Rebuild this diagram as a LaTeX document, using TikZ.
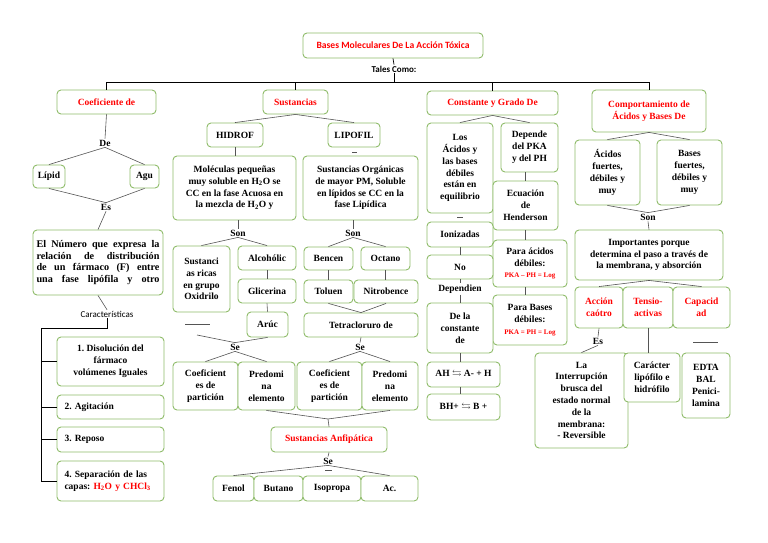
\documentclass[tikz,border=0pt]{standalone}
\usepackage{fontspec}
\usepackage{amssymb}
\setmainfont{Liberation Serif}
\newfontfamily\calibri{Carlito}

\begin{document}
\begin{tikzpicture}[x=1pt, y=-1pt,
    box/.style={draw=borderColour, line width=0.9pt, rounded corners=4pt, fill=white,
        align=center, inner sep=1pt, font=\fontsize{9.5}{11.8}\selectfont\bfseries\frenchspacing},
    head/.style={box, text=titleRed},
    sz/.style 2 args={minimum width=#1pt, minimum height=#2pt},
    lbl/.style={inner sep=1pt, font=\fontsize{9.5}{11}\selectfont\bfseries},
    conn/.style={draw=lineColour, line width=0.6pt},
    barLine/.style={draw=black, line width=0.7pt}]

    \definecolor{borderColour}{HTML}{8FBC6A}
    \definecolor{lineColour}{HTML}{555555}
    \definecolor{titleRed}{HTML}{FF0000}

    \fill[white] (0,0) rectangle (768,543);
    \useasboundingbox (0,0) rectangle (768,543);

    % Title and the four branches
    \node[box, sz={180}{25}, text=titleRed, font=\calibri\fontsize{9.6}{11}\selectfont\bfseries] (title) at (393,45.5) {Bases Moleculares De La Acción Tóxica};
    \node[inner sep=1pt, font=\calibri\fontsize{9}{10}\selectfont\bfseries] (tales) at (394,69) {Tales Como:};

    \node[head, sz={99}{24}] (coef) at (106.5,102) {Coeficiente de};
    \node[head, sz={65}{24}] (sust) at (295.5,102) {Sustancias};
    \node[head, sz={131}{24}] (const) at (492.5,103) {Constante y Grado De};
    \node[head, sz={114}{42}] (comp) at (649,111) {Comportamiento de\\Ácidos y Bases De};

    \coordinate (barL) at (106.5,82);

    \draw[barLine] (title.south) -- (tales.north);
    \draw[barLine] (tales.south) -- (tales.south |- barL);
    \draw[barLine] (coef.north) -- (coef.north |- barL) -- (comp.north |- barL) -- (comp.north);
    \draw[barLine] (sust.north) -- (sust.north |- barL);
    \draw[barLine] (const.north) -- (const.north |- barL);

    % Column 1: Coeficiente de particion
    \node[lbl] (de) at (105,143) {De};
    \node[box, sz={32}{23}] (lipid) at (49,176.5) {Lípid};
    \node[box, sz={29}{23}] (agu) at (144.5,176.5) {Agu};
    \node[lbl] (es) at (106,207) {Es};
    \node[box, sz={130}{65}, text width=123pt, align=justify, font=\fontsize{10.2}{11.8}\selectfont\bfseries] (numero) at (98,262.5)
        {\parfillskip=0pt El Número que expresa la\linebreak relación de distribución\linebreak de un fármaco (F) entre\linebreak una fase lipófila y otro\par};
    \node[inner sep=1pt, font=\calibri\fontsize{9}{10}\selectfont] (caractLbl) at (107,314) {Características};
    \node[box, sz={107}{49}] (car1) at (110.5,361.5) {1. Disolución del\\fármaco\\volúmenes Iguales};
    \node[box, sz={107}{24}, text width=92pt, align=left] (car2) at (110.5,407) {2. Agitación};
    \node[box, sz={107}{25}, text width=92pt, align=left] (car3) at (110.5,439.5) {3. Reposo};
    \node[box, sz={107}{40}, text width=92pt, align=left] (car4) at (110.5,481)
        {4. Separación de las\\capas: \textcolor{titleRed}{H\textsubscript{2}O y CHCl\textsubscript{3}}};

    \draw[conn] (coef.south) -- (de.north);
    \draw[conn] (de.south) -- (lipid.north);
    \draw[conn] (de.south) -- (agu.north);
    \draw[conn] (lipid.south) -- (es.north);
    \draw[conn] (agu.south) -- (es.north);
    \draw[conn] (es.south) -- (numero.north);
    \draw[conn] (numero.south) -- (caractLbl.north);

    \coordinate (spine) at (41,328);
    \draw[barLine] (caractLbl.south) |- (spine) -- (spine |- car4.west) -- (car4.west);
    \foreach \c in {car1,car2,car3}
        \draw[barLine] (\c.west) -- (\c.west -| spine);

    % Column 2: Sustancias
    \node[box, sz={56}{24}] (hidrof) at (235,135) {HIDROF};
    \node[box, sz={52}{24}] (lipofil) at (354,135) {LIPOFIL};
    \node[box, sz={123}{64}] (molec) at (234.5,188)
        {Moléculas pequeñas\\muy soluble en H\textsubscript{2}O se\\CC en la fase Acuosa en\\la mezcla de H\textsubscript{2}O y};
    \node[box, sz={115}{64}] (sustOrg) at (360.5,188)
        {Sustancias Orgánicas\\de mayor PM, Soluble\\en lípidos se CC en la\\fase Lipídica};
    \node[lbl] (son1) at (238,233) {Son};
    \node[lbl] (son2) at (353,233) {Son};
    \node[box, sz={57}{66}] (ricas) at (201.5,279) {Sustanci\\as ricas\\en grupo\\Oxidrilo};
    \node[box, sz={58}{24}] (alcohol) at (267,258) {Alcohólic};
    \node[box, sz={58}{24}] (glicer) at (267,291) {Glicerina};
    \node[box, sz={41}{25}] (aruc) at (267.5,324.5) {Arúc};
    \node[box, sz={49}{23}] (benc) at (328.5,258.5) {Bencen};
    \node[box, sz={49}{23}] (octano) at (385.5,258.5) {Octano};
    \node[box, sz={49}{23}] (toluen) at (328.5,291.5) {Toluen};
    \node[box, sz={64}{23}] (nitro) at (386,291.5) {Nitrobence};
    \node[box, sz={114}{24}] (tetra) at (361,325) {Tetracloruro de};
    \node[lbl] (se1) at (235,347) {Se};
    \node[lbl] (se2) at (360,347) {Se};
    \node[box, sz={65}{48}] (coefL) at (205.5,386) {Coeficient\\es de\\partición};
    \node[box, sz={57}{48}] (predL) at (266.5,386) {Predomi\\na\\elemento};
    \node[box, sz={65}{48}] (coefR) at (329.5,386) {Coeficient\\es de\\partición};
    \node[box, sz={56}{48}] (predR) at (390,386) {Predomi\\na\\elemento};
    \node[head, sz={116}{25}] (anfi) at (329,439.5) {Sustancias Anfipática};
    \node[lbl] (se3) at (328,461) {Se};
    \node[box, sz={41}{25}] (fenol) at (233.5,488.5) {Fenol};
    \node[box, sz={49}{25}] (butano) at (278.5,488.5) {Butano};
    \node[box, sz={58}{25}] (isoprop) at (332,488.5) {Isopropa};
    \node[box, sz={57}{25}] (acet) at (389.5,488.5) {Ac.};

    \draw[conn] (sust.south) -- (hidrof.north);
    \draw[conn] (sust.south) -- (lipofil.north);
    \draw[conn] (hidrof.south) -- (hidrof.south |- molec.north);
    \draw[conn] (son1.north |- molec.south) -- (son1.north);
    \draw[conn] (son2.north |- sustOrg.south) -- (son2.north);
    \draw[conn] (son1.south) -- (ricas.north);
    \draw[conn] (son1.south) -- (alcohol.north);
    \draw[conn] (alcohol.south) -- (glicer.north);
    \draw[conn] (glicer.south) -- (aruc.north);
    \draw[conn] (son2.south) -- (benc.north);
    \draw[conn] (son2.south) -- (octano.north);
    \draw[conn] (benc.south) -- (toluen.north);
    \draw[conn] (octano.south) -- (octano.south |- nitro.north);
    \draw[conn] (toluen.south) -- (tetra.north);
    \draw[conn] (nitro.south) -- (tetra.north);
    \draw[conn] (tetra.south) -- (se2.north);
    \coordinate (seLeft) at (197,335);
    \draw[conn] (seLeft) -- (se1.north);
    \draw[conn] (aruc.south) -- (se1.north);
    \draw[conn] (se1.south) -- (coefL.north);
    \draw[conn] (se1.south) -- (predL.north);
    \draw[conn] (se2.south) -- (coefR.north);
    \draw[conn] (se2.south) -- (predR.north);
    \coordinate (anfiTop) at (328,419);
    \draw[conn] (predL.south) -- (anfiTop);
    \draw[conn] (predR.south) -- (anfiTop) -- (anfi.north);
    \draw[conn] (anfi.south) -- (se3.north);
    \draw[conn] (se3.south) -- (fenol.north);
    \draw[conn] (se3.south) -- (acet.north);

    % Column 3: Constante y grado de ionizacion
    \node[box, sz={66}{90}] (los) at (460,168) {Los\\Ácidos y\\las bases\\débiles\\están en\\equilibrio};
    \node[box, sz={57}{49}] (depende) at (529.5,147.5) {Depende\\del PKA\\y del PH};
    \node[box, sz={65}{49}] (ecuac) at (525.5,205.5) {Ecuación\\de\\Henderson};
    \node[box, sz={66}{25}] (ioniz) at (460,234.5) {Ionizadas};
    \node[box, sz={74}{47}] (paraAc) at (530,263.5)
        {Para ácidos\\débiles:\\\textcolor{titleRed}{\fontsize{7}{8}\selectfont PKA – PH = Log}};
    \node[box, sz={74}{50}] (paraBa) at (530,320)
        {Para Bases\\débiles:\\\textcolor{titleRed}{\fontsize{7}{8}\selectfont PKA = PH = Log}};
    \node[box, sz={66}{24}] (no) at (460,267) {No};
    \node[lbl] (dependien) at (460,289) {Dependien};
    \node[box, sz={66}{50}] (deLa) at (460,328) {De la\\constante\\de};
    \node[box, sz={73}{25}] (ah) at (463.5,374.5) {AH $\leftrightarrows$ A- + H};
    \node[box, sz={73}{26}] (bh) at (463.5,407) {BH+ $\leftrightarrows$ B +};

    \draw[conn] (const.south) -- (los.north);
    \draw[conn] (const.south) -- (depende.north);
    \draw[conn] (ecuac.north) -- (ecuac.north |- depende.south);
    \draw[conn] (ecuac.south) -- (ecuac.south |- paraAc.north);
    \draw[conn] (ecuac.south |- paraAc.south) -- (ecuac.south |- paraBa.north);
    \draw[conn] (ioniz.south) -- (no.north);
    \draw[conn] (no.south) -- (dependien.north);
    \draw[conn] (dependien.south) -- (deLa.north);
    \draw[conn] (deLa.south) -- (deLa.south |- ah.north);
    \draw[conn] (deLa.south |- ah.south) -- (deLa.south |- bh.north);

    % Column 4: Comportamiento de acidos y bases
    \node[box, sz={65}{65}] (acidos) at (607.5,172.5) {Ácidos\\fuertes,\\débiles y\\muy};
    \node[box, sz={65}{65}] (bases) at (689.5,172.5) {Bases\\fuertes,\\débiles y\\muy};
    \node[lbl] (son3) at (648,217) {Son};
    \node[box, sz={148}{50}] (import) at (649,255) {Importantes porque\\determina el paso a través de\\la membrana, y absorción};
    \node[head, sz={48}{41}] (accion) at (599,307.5) {Acción\\caótro};
    \node[head, sz={50}{41}] (tensio) at (648,307.5) {Tensio-\\activas};
    \node[head, sz={57}{41}] (capac) at (701.5,307.5) {Capacid\\ad};
    \node[lbl] (es2) at (598,341) {Es};
    \node[box, sz={93}{95}] (laInt) at (581.5,400.5) {La\\Interrupción\\brusca del\\estado normal\\de la\\membrana:\\- Reversible};
    \node[box, sz={56}{49}] (caract) at (652,377.5) {Carácter\\lipófilo e\\hidrófilo};
    \node[box, sz={48}{65}] (edta) at (706,385.5) {EDTA\\BAL\\Penici-\\lamina};

    \draw[conn] (comp.south) -- (acidos.north);
    \draw[conn] (comp.south) -- (bases.north);
    \draw[conn] (acidos.south) -- (son3.north);
    \draw[conn] (bases.south) -- (son3.north);
    \draw[conn] (son3.south) -- (import.north);
    \draw[conn] (import.south) -- (accion.north);
    \draw[conn] (import.south) -- (capac.north);
    \draw[conn] (accion.south) -- (es2.north);
    \draw[conn] (es2.south) -- (laInt.north);
    \draw[conn] (tensio.south) -- (tensio.south |- caract.north);

    % Clipped marks
    \draw[conn] (185,324) -- (210,324);
    \draw[conn] (693,342) -- (718,342);
    \draw[conn] (457,217) -- (463,217);
    \draw[conn] (352,152) -- (357,152);
    \draw[conn] (325,470) -- (332,470);

\end{tikzpicture}
\end{document}
